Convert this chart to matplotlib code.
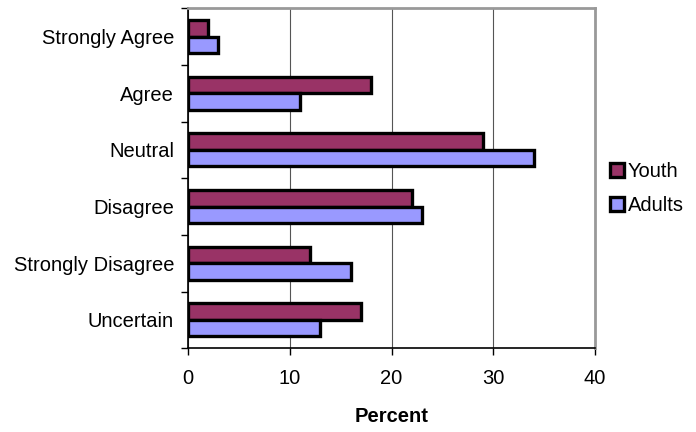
import matplotlib
matplotlib.use("Agg")
import matplotlib.pyplot as plt
import numpy as np

plt.rcParams['font.family'] = ['Liberation Sans', 'DejaVu Sans']

categories = ['Strongly Agree', 'Agree', 'Neutral', 'Disagree',
              'Strongly Disagree', 'Uncertain']
youth = [2, 18, 29, 22, 12, 17]
adults = [3, 11, 34, 23, 16, 13]

fig = plt.figure(figsize=(6.96, 4.32), dpi=100)
ax = fig.add_axes([0.270, 0.194, 0.585, 0.787])

y = np.arange(len(categories))
h = 0.29
ax.barh(y - h / 2, youth, height=h, color='#993366', edgecolor='black',
        linewidth=2.4, label='Youth', zorder=3)
ax.barh(y + h / 2, adults, height=h, color='#9999FF', edgecolor='black',
        linewidth=2.4, label='Adults', zorder=3)

ax.set_xlim(0, 40)
ax.set_ylim(len(categories) - 0.5, -0.5)
ax.set_xticks([0, 10, 20, 30, 40])
ax.set_yticks(y)
ax.set_yticklabels(categories, fontsize=14.5)
ax.tick_params(axis='y', length=0, pad=10)
ax.set_yticks(np.arange(len(categories) + 1) - 0.5, minor=True)
ax.tick_params(axis='y', which='minor', length=5, width=1, direction='out')
ax.tick_params(axis='x', length=5, width=1, labelsize=14.5, pad=10)
ax.xaxis.grid(True, color='#555555', linewidth=0.8, zorder=0)

for s in ['top', 'right']:
    ax.spines[s].set_color('#999999')
    ax.spines[s].set_linewidth(2)
for s in ['left', 'bottom']:
    ax.spines[s].set_color('black')
    ax.spines[s].set_linewidth(1.2)

ax.set_xlabel('Percent', fontsize=14.5, fontweight='bold', labelpad=14)

fig.legend(loc='center left', bbox_to_anchor=(0.85, 0.563), frameon=False,
           fontsize=14.5, handlelength=0.7, handleheight=0.7, handletextpad=0.2,
           labelspacing=0.75)

fig.savefig('out.png', dpi=100)
